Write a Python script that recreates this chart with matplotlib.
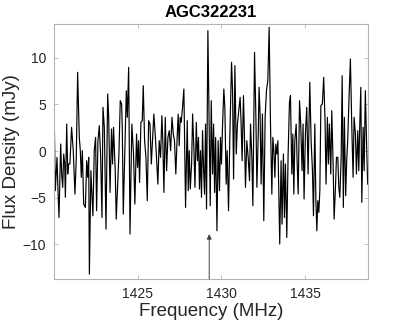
import matplotlib
matplotlib.use("Agg")
import matplotlib.pyplot as plt

# frequency (MHz) and flux density (mJy)
freq = [1420.04, 1420.10, 1420.20, 1420.26, 1420.32, 1420.42, 1420.48, 1420.54, 1420.60, 1420.66,
        1420.70, 1420.78, 1420.84, 1420.89, 1420.97, 1421.07, 1421.17, 1421.27, 1421.35, 1421.43,
        1421.53, 1421.59, 1421.65, 1421.71, 1421.79, 1421.89, 1421.97, 1422.03, 1422.09, 1422.13,
        1422.22, 1422.34, 1422.42, 1422.50, 1422.56, 1422.64, 1422.72, 1422.80, 1422.88, 1422.94,
        1423.02, 1423.12, 1423.22, 1423.28, 1423.36, 1423.45, 1423.51, 1423.57, 1423.67,
        1423.73, 1423.89, 1423.97, 1424.05, 1424.09, 1424.15, 1424.33, 1424.39, 1424.47, 1424.55,
        1424.66, 1424.76, 1424.84, 1424.94, 1425.00, 1425.06, 1425.12, 1425.20, 1425.28, 1425.34,
        1425.42, 1425.50, 1425.58, 1425.66, 1425.74, 1425.82, 1425.90, 1425.97, 1426.05, 1426.13,
        1426.21, 1426.29, 1426.37, 1426.45, 1426.51, 1426.57, 1426.65, 1426.73, 1426.81, 1426.89,
        1426.97, 1427.05, 1427.13, 1427.20, 1427.28, 1427.36,
        1427.42, 1427.48, 1427.54, 1427.60, 1427.68, 1427.76, 1427.86, 1427.96, 1428.02, 1428.08,
        1428.14, 1428.22, 1428.28, 1428.36, 1428.42, 1428.50, 1428.57, 1428.63, 1428.69, 1428.75,
        1428.81, 1428.87, 1428.93, 1428.99, 1429.05, 1429.11, 1429.19, 1429.27, 1429.33, 1429.39,
        1429.47, 1429.53, 1429.59, 1429.65, 1429.73, 1429.80, 1429.88, 1429.94, 1430.00, 1430.06,
        1430.14, 1430.20, 1430.28, 1430.34, 1430.42, 1430.50, 1430.60, 1430.66, 1430.72, 1430.80,
        1430.88, 1430.95,
        1431.11, 1431.17, 1431.23, 1431.31, 1431.37, 1431.43, 1431.51, 1431.59, 1431.67, 1431.73,
        1431.81, 1431.87, 1431.97, 1432.05, 1432.11, 1432.19, 1432.24, 1432.30, 1432.36, 1432.44,
        1432.52, 1432.60, 1432.68, 1432.76, 1432.84, 1432.92, 1433.00, 1433.06, 1433.12, 1433.18,
        1433.24, 1433.30, 1433.36, 1433.43, 1433.47, 1433.55, 1433.61, 1433.69, 1433.75, 1433.81,
        1433.89, 1433.97, 1434.05, 1434.11, 1434.19, 1434.25, 1434.31, 1434.37, 1434.45, 1434.51,
        1434.57, 1434.65, 1434.72,
        1434.80, 1434.86, 1434.92, 1435.00, 1435.08, 1435.16, 1435.26, 1435.34, 1435.42, 1435.48,
        1435.56, 1435.62, 1435.68, 1435.74, 1435.80, 1435.86, 1435.92, 1436.01, 1436.09, 1436.17,
        1436.23, 1436.31, 1436.37, 1436.43, 1436.51, 1436.57, 1436.65, 1436.71, 1436.79, 1436.85,
        1436.93, 1436.99, 1437.05, 1437.13, 1437.19, 1437.26, 1437.32, 1437.40, 1437.46, 1437.52,
        1437.60, 1437.68, 1437.76, 1437.84, 1437.90, 1437.98, 1438.04, 1438.12, 1438.18, 1438.24,
        1438.30, 1438.36, 1438.44, 1438.50, 1438.57, 1438.65, 1438.71]

flux = [3.25, -4.25, -0.68, -4.25, -7.11, 0.75, -2.46, -3.89, -0.32, -1.39,
        -4.96, 2.89, -2.46, -1.39, -1.39, 2.54, 0.04, -4.61, -0.68, 8.43,
        1.46, 0.04, -2.82, 0.04, -5.68, -6.04, -1.04, -2.82, -0.68, -13.18,
        -2.11, -6.93, 0.04, 1.46, -6.39, 1.11, 2.71, -0.50, -7.11, 4.68,
        2.54, -8.36, 6.11, 3.61, -4.43, 2.36, -1.39, 2.54, -2.11,
        -7.29, -0.32, 5.39, 5.04, 2.54, -6.75, 6.46, 3.61, 8.96, -8.89,
        2.89, -0.32, -5.68, 1.82, -1.75, 1.11, -3.36, 3.07, 3.25, 7.00,
        1.11, -0.68, -5.32, 3.25, 2.89, -1.39, 1.46, 3.96, 1.82, -0.68,
        -3.54, 1.11, -0.68, 3.79, 0.75, -4.43, 3.61, -2.11, 1.46, 2.18,
        0.04, 3.61, 1.82, 1.11, -2.46, 1.46,
        3.96, 0.57, 3.61, 3.07, 4.68, 6.64, -6.04, 3.25, -4.25, 0.04,
        -4.07, -1.39, 3.96, 0.04, -3.89, 3.07, -1.04, 1.46, -4.07, 0.04,
        -4.96, 2.18, -1.75, -4.61, 2.89, -6.21, 12.89, 1.82, -5.86, 5.39,
        -2.46, 2.89, -4.43, 1.46, -8.54, 1.11, -4.25, 1.46, -1.39, 2.54,
        6.64, 4.68, -3.54, 0.04, -6.39, 1.82, 9.50, 6.46, -3.00, 9.14,
        -0.32, 2.89,
        5.75, 2.89, -1.04, 5.93, 1.46, -3.89, 1.11, -0.68, -3.18, 2.89,
        -0.68, -5.86, 10.57, 3.61, -3.89, 1.82, 6.82, 3.96, -3.54, 3.96,
        -7.46, 3.61, 6.46, 7.54, 13.25, 2.89, -4.61, 1.46, 0.04, -2.82,
        0.75, -0.32, 1.11, -5.68, -9.96, -1.04, -7.82, -0.32, -7.11, -1.39,
        -9.25, -0.32, 5.21, 5.93, -2.46, 1.82, -4.61, 1.11, 2.89, -1.39,
        -4.61, 5.39, 2.89,
        -2.11, 2.89, -5.14, 1.82, 4.68, -2.46, 7.36, 1.11, -2.11, -6.93,
        2.89, -4.96, -8.54, -5.32, -6.57, -4.25, 4.86, 5.04, 7.89, 3.25,
        -3.54, 3.61, -1.39, 2.89, -2.46, 4.32, -1.39, -7.29, -3.89, -0.68,
        -0.68, -3.89, -4.96, -0.68, 8.07, -6.04, 3.61, -4.79, -1.04, 1.11,
        5.75, 9.86, 2.89, -2.82, 3.61, 1.82, -2.46, 2.18, -2.11, 2.89,
        6.82, -5.50, 2.54, -2.11, 6.46, 0.39, -3.54]

arrow_freq = 1429.27
arrow_tip = -8.9

plt.rcParams['font.family'] = ['Liberation Sans', 'DejaVu Sans']

fig = plt.figure(figsize=(4.07, 3.26), dpi=100)
ax = fig.add_axes([0.1334, 0.1442, 0.7700, 0.7822])

ax.plot(freq, flux, color="black", linewidth=0.85)

ax.set_xlim(1420.04, 1438.71)
ax.set_ylim(-13.7, 13.6)
ax.set_xticks([1425, 1430, 1435])
ax.set_yticks([-10, -5, 0, 5, 10])

ax.annotate("", xy=(arrow_freq, arrow_tip), xytext=(arrow_freq, -13.7),
            arrowprops=dict(arrowstyle="-|>", color="#404040", lw=0.7,
                            mutation_scale=7, shrinkA=0, shrinkB=0))

for s in ax.spines.values():
    s.set_color("#b4b4b4")
    s.set_linewidth(0.8)
ax.tick_params(direction="in", length=3, width=0.6, color="#b4b4b4",
               top=True, right=True, labelsize=10, labelcolor="#262626", pad=6)

ax.set_xlabel("Frequency (MHz)", fontsize=13.5, color="#262626", labelpad=1)
ax.set_ylabel("Flux Density (mJy)", fontsize=13.5, color="#262626", labelpad=2)
ax.set_title("AGC322231", fontsize=12, fontweight="bold", pad=5)

fig.savefig("out.png", dpi=100)
